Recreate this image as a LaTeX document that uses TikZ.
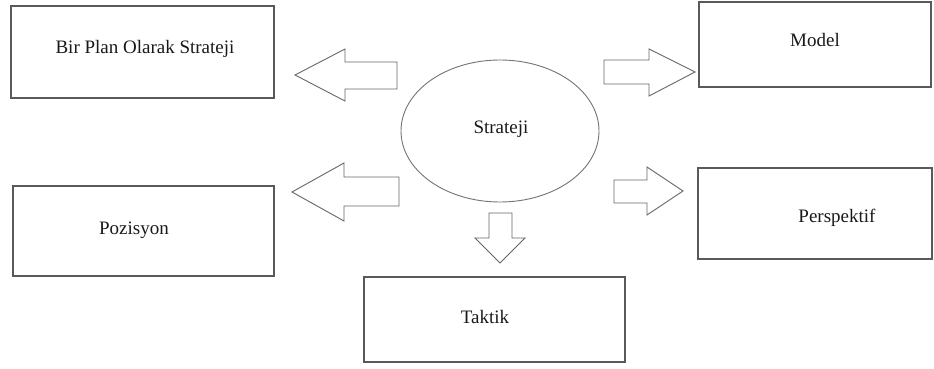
\documentclass[tikz,border=0pt]{standalone}
\usepackage{fontspec}
\setmainfont{Liberation Serif}
\begin{document}
\begin{tikzpicture}[x=1pt,y=-1pt,
  box/.style={draw=black!65,line width=1.3pt,inner sep=0pt},
  lbl/.style={font=\fontsize{19}{22}\selectfont,text=black!90,inner sep=0pt,anchor=base},
  bigarrow/.style={draw=black!60,line width=0.9pt,fill=white,line join=miter},
  oval/.style={draw=black!55,line width=0.9pt}]
\useasboundingbox (0,0) rectangle (934,369);
% boxes
\draw[box] (11,6) rectangle (274,98) node[pos=0.5,inner sep=0pt] (plan) {};
\draw[box] (699,2) rectangle (931,87) node[pos=0.5,inner sep=0pt] (model) {};
\draw[box] (13,186) rectangle (274,276) node[pos=0.5,inner sep=0pt] (poz) {};
\draw[box] (698,168) rectangle (932,259) node[pos=0.5,inner sep=0pt] (persp) {};
\draw[box] (364,277) rectangle (625,362) node[pos=0.5,inner sep=0pt] (taktik) {};
% ellipse
\draw[oval] (500,131) ellipse [x radius=99, y radius=71];
\coordinate (strat) at (500,131);
% labels
\node[lbl] (tplan) at (145,53) {Bir Plan Olarak Strateji};
\node[lbl] (tmodel) at (815,47) {Model};
\node[lbl] (tpoz) at (134,234) {Pozisyon};
\node[lbl] (tpersp) at (837,222) {Perspektif};
\node[lbl] (ttaktik) at (485,323) {Taktik};
\node[lbl] (tstrat) at (501,133) {Strateji};
% block arrows
\draw[bigarrow] (397,62) -- (345,62) -- (345,49) -- (295,75) -- (345,101) -- (345,89) -- (397,89) -- cycle;
\draw[bigarrow] (399,177) -- (344,177) -- (344,163) -- (292,192) -- (344,221) -- (344,206) -- (399,206) -- cycle;
\draw[bigarrow] (604,60) -- (649,60) -- (649,49) -- (695,72) -- (649,96) -- (649,84) -- (604,84) -- cycle;
\draw[bigarrow] (614,180) -- (647,180) -- (647,167) -- (683,191) -- (647,215) -- (647,203) -- (614,203) -- cycle;
\draw[bigarrow] (489,213) -- (489,238) -- (475,238) -- (500,263) -- (525,238) -- (512,238) -- (512,213) -- cycle;
\end{tikzpicture}
\end{document}
